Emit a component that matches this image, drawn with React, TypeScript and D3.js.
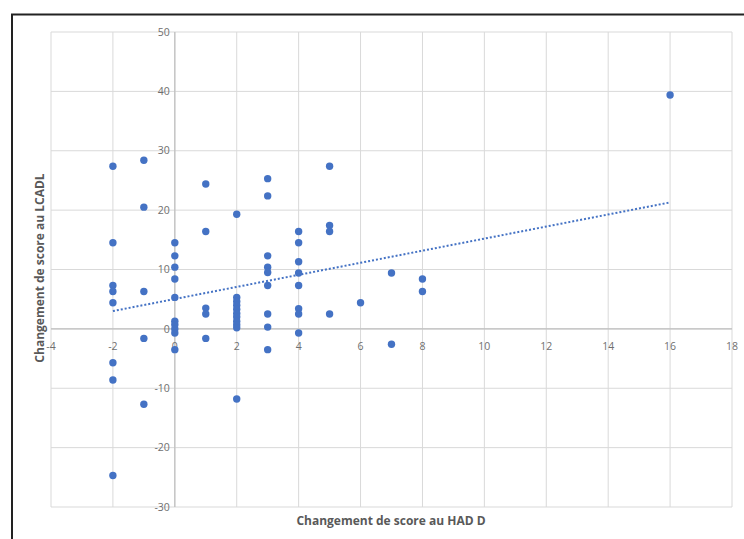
import React from "react";
import * as d3 from "d3";

// HAD D change (x) and LCADL change (y)
const hadD: number[] = [
  -2, -2, -2, -2, -2, -2, -2, -2,
  -1, -1, -1, -1, -1,
  0, 0, 0, 0, 0, 0, 0, 0, 0, 0,
  1, 1, 1, 1, 1,
  2, 2, 2, 2, 2, 2, 2, 2, 2, 2, 2,
  3, 3, 3, 3, 3, 3, 3, 3, 3,
  4, 4, 4, 4, 4, 4, 4, 4,
  5, 5, 5, 5,
  6,
  7, 7,
  8, 8,
  16,
];
const lcadl: number[] = [
  27.4, 14.5, 7.3, 6.3, 4.4, -5.7, -8.6, -24.7,
  28.4, 20.5, 6.3, -1.6, -12.7,
  14.5, 12.3, 10.4, 8.4, 5.3, 1.3, 0.7, 0, -0.7, -3.5,
  24.4, 16.4, 3.5, 2.5, -1.6,
  19.3, 5.3, 4.6, 4.0, 3.3, 2.6, 2.0, 1.3, 0.7, 0.2, -11.8,
  25.3, 22.4, 12.3, 10.4, 9.5, 7.3, 2.5, 0.3, -3.5,
  16.4, 14.5, 11.3, 9.4, 7.3, 3.4, 2.5, -0.7,
  27.4, 17.4, 16.4, 2.5,
  4.4,
  9.4, -2.6,
  8.4, 6.3,
  39.4,
];
// Linear trendline endpoints
const trendX: number[] = [-2, 16];
const trendY: number[] = [3.0, 21.3];

const xTicks: number[] = [-4, -2, 0, 2, 4, 6, 8, 10, 12, 14, 16, 18];
const yTicks: number[] = [-30, -20, -10, 0, 10, 20, 30, 40, 50];

const xTitle = "Changement de score au HAD D";
const yTitle = "Changement de score au LCADL";

export default function App() {
  const W = 744;
  const H = 539;
  const x = d3.scaleLinear().domain([-4, 18]).range([51, 732]);
  const y = d3.scaleLinear().domain([-30, 50]).range([507, 32]);
  const font = "'Open Sans', 'Liberation Sans', sans-serif";
  const blue = "#4472c4";
  const line = d3
    .line<number>()
    .x((d) => x(d))
    .y((_, i) => y(trendY[i]));

  return (
    <div style={{ position: "fixed", left: 0, top: 0 }}>
      <svg width={W} height={H} style={{ display: "block", background: "#fff" }}>
        <rect x={0} y={0} width={W} height={H} fill="#fff" />
        {/* outer frame */}
        <rect x={12} y={14.5} width={W + 20} height={H + 20} fill="none" stroke="#222" strokeWidth={2} />
        {/* gridlines */}
        {xTicks.map((t) => (
          <line key={"gx" + t} x1={x(t)} x2={x(t)} y1={y(50)} y2={y(-30)} stroke="#d9d9d9" strokeWidth={1} />
        ))}
        {yTicks.map((t) => (
          <line key={"gy" + t} x1={x(-4)} x2={x(18)} y1={y(t)} y2={y(t)} stroke="#d9d9d9" strokeWidth={1} />
        ))}
        {/* axes */}
        <line x1={x(0)} x2={x(0)} y1={y(50)} y2={y(-30)} stroke="#bfbfbf" strokeWidth={1.2} />
        <line x1={x(-4)} x2={x(18)} y1={y(0)} y2={y(0)} stroke="#bfbfbf" strokeWidth={1.2} />
        {/* tick labels */}
        {yTicks.map((t) => (
          <text key={"ty" + t} x={x(0) - 5} y={y(t)} dy="0.35em" textAnchor="end" fontFamily={font} fontSize={10.5} fill="#6f6f6f">
            {t}
          </text>
        ))}
        {xTicks.map((t) => (
          <text key={"tx" + t} x={x(t)} y={y(0) + 17} dy="0.35em" textAnchor="middle" fontFamily={font} fontSize={10.5} fill="#6f6f6f">
            {t}
          </text>
        ))}
        {/* points */}
        {hadD.map((v, i) => (
          <circle key={"p" + i} cx={x(v)} cy={y(lcadl[i])} r={3.7} fill={blue} />
        ))}
        {/* trendline */}
        <path d={line(trendX) || ""} fill="none" stroke={blue} strokeWidth={2} strokeDasharray="2 2" />
        {/* titles */}
        <text x={391} y={521} dy="0.35em" textAnchor="middle" fontFamily={font} fontSize={12} fontWeight="bold" fill="#595959">
          {xTitle}
        </text>
        <text
          transform={`translate(40,268) rotate(-90)`}
          dy="0.35em"
          textAnchor="middle"
          fontFamily={font}
          fontSize={12}
          fontWeight="bold"
          fill="#595959"
        >
          {yTitle}
        </text>
      </svg>
    </div>
  );
}
